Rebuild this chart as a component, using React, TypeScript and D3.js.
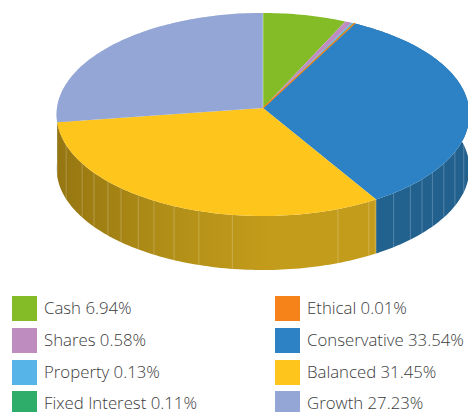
import React, { useEffect, useRef } from 'react';
import * as d3 from 'd3';

const funds = ['Cash', 'Shares', 'Property', 'Fixed Interest', 'Ethical', 'Conservative', 'Balanced', 'Growth'];
const shares = [6.94, 0.58, 0.13, 0.11, 0.01, 33.54, 31.45, 27.23];
const colours = ['#84BC27', '#BE8CBF', '#56B4E9', '#2EAD6A', '#F58319', '#2D82C6', '#FEC51C', '#93A6D6'];
// seams on the rim, in degrees clockwise from the top
const seams = [107, 115, 122, 127.8, 132.4, 137, 143, 149, 151, 160, 188, 197, 204, 210, 215, 221, 226, 232, 238, 249];

const W = 468;
const H = 412;
const cx = 263;
const cy = 108;
const A = 206;
const E = 101.1;
const k = 0.064; // perspective
const depth = 54;

// angle around the pie -> point on the tilted disc
const project = (a: number, dy = 0): [number, number] => {
  const u = Math.sin(a);
  const v = -Math.cos(a);
  const w = 1 - k * v;
  return [cx + (A * u) / w, cy + (E * v) / w + dy];
};

const arcPoints = (a0: number, a1: number, dy = 0) => {
  const n = Math.max(2, Math.ceil((a1 - a0) / 0.02));
  return d3.range(n + 1).map((i) => project(a0 + ((a1 - a0) * i) / n, dy));
};

export default function App() {
  const ref = useRef<SVGSVGElement>(null);

  useEffect(() => {
    const svg = d3.select(ref.current);
    svg.selectAll('*').remove();

    const slices = d3.pie<number>().sort(null)(shares);
    const line = d3.line();

    const defs = svg.append('defs');
    const grad = (id: string, x1: number, x2: number, stops: string[]) => {
      const g = defs.append('linearGradient').attr('id', id)
        .attr('gradientUnits', 'userSpaceOnUse')
        .attr('x1', x1).attr('x2', x2).attr('y1', 0).attr('y2', 0);
      stops.forEach((c, i) => g.append('stop').attr('offset', i / (stops.length - 1)).attr('stop-color', c));
    };
    grad('wall6', 57, 379, ['#967611', '#B08E17', '#C49C1B', '#C49C1B']);
    grad('wall5', 379, 468, ['#22628F', '#22608D']);
    grad('wall7', 57, 62, ['#C5CDE6', '#C5CDE6']);

    // rim first, back slices before front ones
    const wallOrder = [7, 5, 6];
    svg.append('g').selectAll('path').data(wallOrder).enter().append('path')
      .attr('fill', (i) => `url(#wall${i})`)
      .attr('d', (i) => {
        const s = slices[i];
        const top = arcPoints(s.startAngle, s.endAngle);
        const bottom = arcPoints(s.startAngle, s.endAngle, depth).reverse();
        return line(top.concat(bottom)) + 'Z';
      });

    // seams on the rim
    svg.append('g').selectAll('line').data(seams).enter().append('line')
      .attr('x1', (d) => project((d * Math.PI) / 180)[0])
      .attr('y1', (d) => project((d * Math.PI) / 180)[1])
      .attr('x2', (d) => project((d * Math.PI) / 180, depth)[0])
      .attr('y2', (d) => project((d * Math.PI) / 180, depth)[1])
      .attr('stroke', '#fff')
      .attr('stroke-opacity', 0.22)
      .attr('stroke-width', 1);

    // top of the pie
    svg.append('g').selectAll('path').data(slices).enter().append('path')
      .attr('fill', (d) => colours[d.index])
      .attr('stroke', (d) => (d.index === 4 ? colours[4] : 'none'))
      .attr('stroke-width', 1.2)
      .attr('d', (d) => line([[cx, cy] as [number, number]].concat(arcPoints(d.startAngle, d.endAngle))) + 'Z')
      .filter((d) => d.index === 4)
      .raise();

    svg.append('line')
      .attr('x1', cx).attr('y1', cy)
      .attr('x2', cx).attr('y2', project(0)[1])
      .attr('stroke', '#fff').attr('stroke-opacity', 0.5).attr('stroke-width', 0.8);

    // legend, two columns of four
    const col = d3.scalePoint<number>().domain([0, 1]).range([12, 275]);
    const rowY = [296, 328, 360, 391];
    const legend = svg.append('g').selectAll('g').data(funds).enter().append('g')
      .attr('transform', (_, i) => `translate(${col(Math.floor(i / 4))},${rowY[i % 4]})`);
    legend.append('rect')
      .attr('width', 25).attr('height', 25)
      .attr('fill', (_, i) => colours[i]);
    legend.append('text')
      .attr('x', 32).attr('y', 18)
      .attr('font-family', '"Open Sans", sans-serif')
      .attr('font-weight', 300)
      .attr('font-size', 16.8)
      .attr('fill', '#3c3c3c')
      .text((d, i) => `${d} ${shares[i].toFixed(2)}%`);
  }, []);

  return <svg ref={ref} width={W} height={H} style={{ position: 'absolute', left: 0, top: 0, background: '#fff' }} />;
}
